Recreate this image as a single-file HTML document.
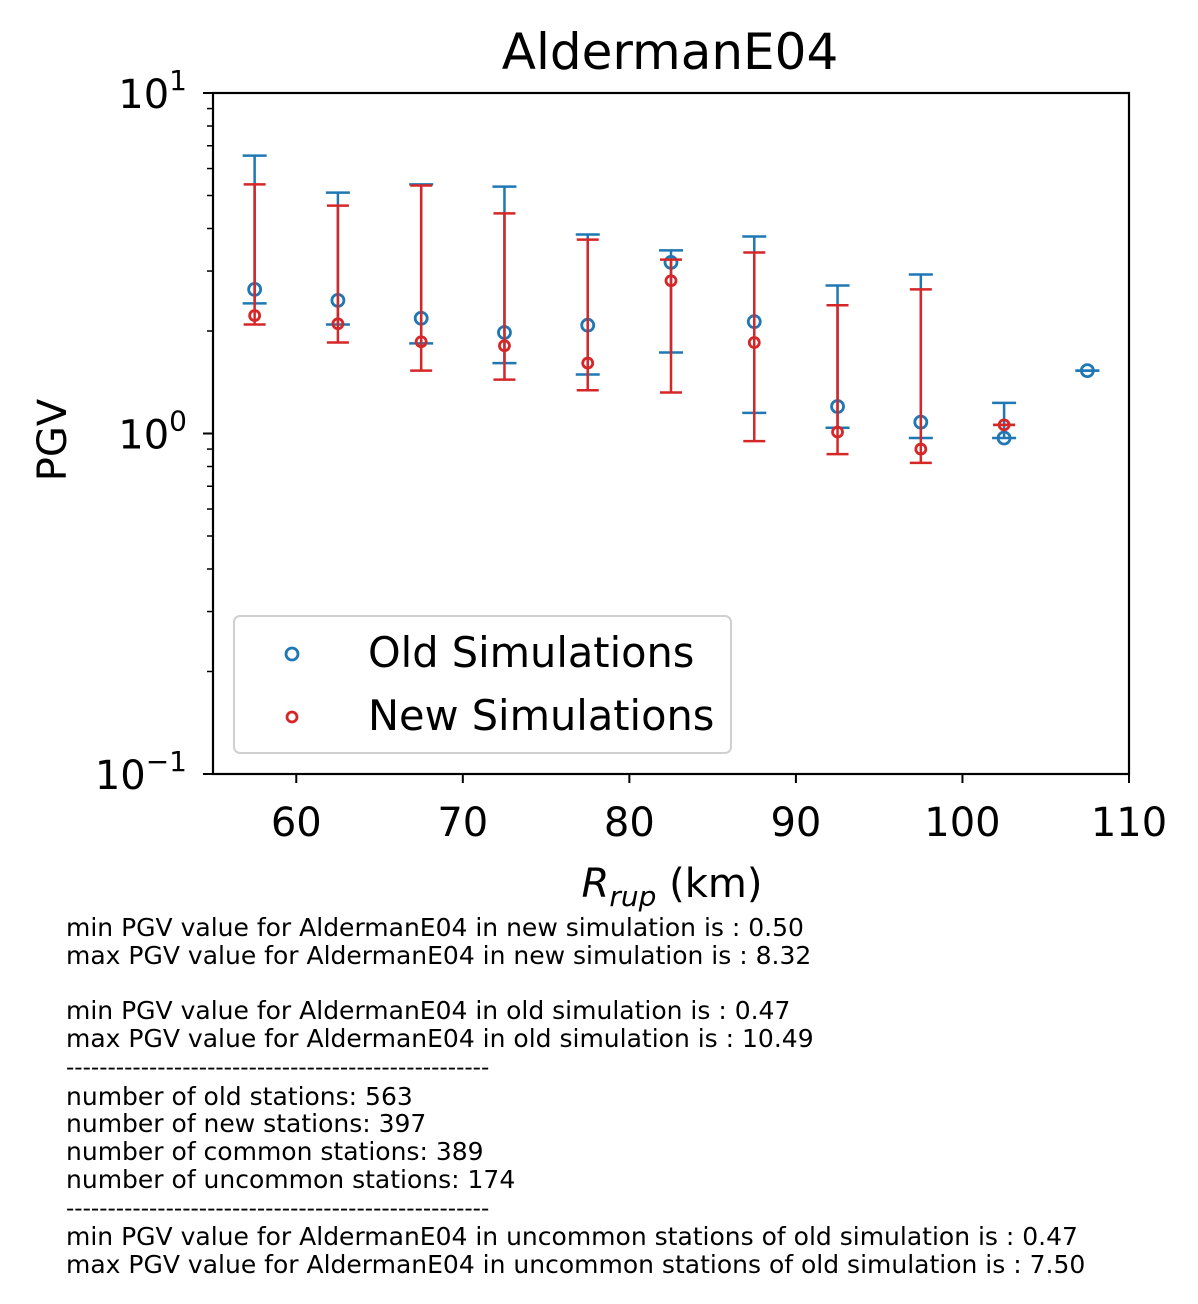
<!DOCTYPE html>
<html><head><meta charset="utf-8"><style>
body{margin:0;background:#fff;width:1198px;height:1304px;overflow:hidden;font-family:"DejaVu Sans","Liberation Sans",sans-serif}
#notes{position:absolute;left:66px;top:914px;font-size:25px;line-height:27.75px;white-space:pre;color:#000;font-family:"DejaVu Sans","Liberation Sans",sans-serif}
.d{font-size:23px}
</style></head><body>
<svg id="chart" width="1198" height="1304" style="position:absolute;left:0;top:0" font-family="DejaVu Sans, Liberation Sans, sans-serif"></svg>
<div id="notes">min PGV value for AldermanE04 in new simulation is : 0.50
max PGV value for AldermanE04 in new simulation is : 8.32

min PGV value for AldermanE04 in old simulation is : 0.47
max PGV value for AldermanE04 in old simulation is : 10.49
<span class="d">---------------------------------------------------</span>
number of old stations: 563
number of new stations: 397
number of common stations: 389
number of uncommon stations: 174
<span class="d">---------------------------------------------------</span>
min PGV value for AldermanE04 in uncommon stations of old simulation is : 0.47
max PGV value for AldermanE04 in uncommon stations of old simulation is : 7.50</div>
<script>
const oldX=[57.5,62.5,67.5,72.5,77.5,82.5,87.5,92.5,97.5,102.5,107.5];
const oldY=[2.65,2.46,2.18,1.98,2.08,3.18,2.13,1.20,1.08,0.97,1.53];
const oldHi=[6.55,5.10,5.39,5.31,3.84,3.45,3.79,2.72,2.93,1.23,1.53];
const oldLo=[2.41,2.09,1.84,1.61,1.49,1.73,1.15,1.04,0.97,0.97,1.53];
const newX=[57.5,62.5,67.5,72.5,77.5,82.5,87.5,92.5,97.5,102.5];
const newY=[2.22,2.10,1.86,1.81,1.61,2.81,1.85,1.01,0.90,1.06];
const newHi=[5.39,4.67,5.35,4.43,3.71,3.24,3.40,2.38,2.65,1.06];
const newLo=[2.09,1.85,1.53,1.44,1.34,1.32,0.95,0.87,0.82,1.06];
const xTicks=[60,70,80,90,100,110];
const yTicks=[1,0,-1];

const L=213,R=1129,T=93,B=774,xMin=55,xMax=110;
const sx=v=>L+(v-xMin)/(xMax-xMin)*(R-L);
const sy=v=>B-(Math.log10(v)+1)/2*(B-T);
const svg=document.getElementById('chart');
const NS='http://www.w3.org/2000/svg';
function mk(t,a,p){const e=document.createElementNS(NS,t);for(const k in a)e.setAttribute(k,a[k]);(p||svg).appendChild(e);return e;}

let frame=mk('rect',{x:L,y:T,width:R-L,height:B-T,fill:'none',stroke:'#000','stroke-width':2.2});


let title=mk('text',{x:670,y:69,'text-anchor':'middle','font-size':50});
title.textContent='AldermanE04';



xTicks.forEach(t=>{const x=sx(t);
 mk('line',{x1:x,x2:x,y1:B,y2:B+9,stroke:'#000','stroke-width':2});
 const tx=mk('text',{x:x,y:B+62,'text-anchor':'middle','font-size':40});tx.textContent=t;
 
 
});
yTicks.forEach(e=>{const y=sy(Math.pow(10,e));
 mk('line',{x1:L-10,x2:L,y1:y,y2:y,stroke:'#000','stroke-width':2});
 const tx=mk('text',{x:L-26,y:y+15,'text-anchor':'end','font-size':40});
 tx.innerHTML='10<tspan dy="-18" font-size="28">'+(e<0?'\u2212':'')+Math.abs(e)+'</tspan>';
 
 
});
[-1,0].forEach(d=>{for(let m=2;m<=9;m++){const y=sy(m*Math.pow(10,d));mk('line',{x1:L-6,x2:L,y1:y,y2:y,stroke:'#000','stroke-width':1.5});}});

let xl=mk('text',{x:672,y:897,'text-anchor':'middle','font-size':40});
xl.innerHTML='<tspan font-style="italic">R</tspan><tspan font-style="italic" font-size="28" dy="9">rup</tspan><tspan dy="-9"> (km)</tspan>';


let yl=mk('text',{x:52,y:454,'text-anchor':'middle','font-size':40,transform:'rotate(-90 52 440)'});
yl.textContent='PGV';



function series(X,Y,Hi,Lo,col,r,cw,name){
 const g=mk('g',{});
 
 
 X.forEach((xv,i)=>{const x=sx(xv);
  mk('line',{x1:x,x2:x,y1:sy(Hi[i]),y2:sy(Lo[i]),stroke:col,'stroke-width':2.5},g);
  mk('line',{x1:x-cw,x2:x+cw,y1:sy(Hi[i]),y2:sy(Hi[i]),stroke:col,'stroke-width':2.5},g);
  mk('line',{x1:x-cw,x2:x+cw,y1:sy(Lo[i]),y2:sy(Lo[i]),stroke:col,'stroke-width':2.5},g);
  const c=mk('circle',{cx:x,cy:sy(Y[i]),r:r,fill:'none',stroke:col,'stroke-width':2.8},g);
  
  
 });
}
series(oldX,oldY,oldHi,oldLo,'#1f77b4',6,12,'old-simulations-series');
series(newX,newY,newHi,newLo,'#d62728',5,11,'new-simulations-series');

const lg=mk('g',{});


mk('rect',{x:234,y:616,width:497,height:137,rx:6,fill:'#fff','fill-opacity':0.8,stroke:'#d0d0d0','stroke-width':2},lg);
mk('circle',{cx:292,cy:654,r:6,fill:'none',stroke:'#1f77b4','stroke-width':2.8},lg);
mk('circle',{cx:292,cy:717,r:5,fill:'none',stroke:'#d62728','stroke-width':2.8},lg);
let t1=mk('text',{x:368,y:667,'font-size':41.5},lg);t1.textContent='Old Simulations';


let t2=mk('text',{x:368,y:730,'font-size':41.5},lg);t2.textContent='New Simulations';


</script>
</body></html>
